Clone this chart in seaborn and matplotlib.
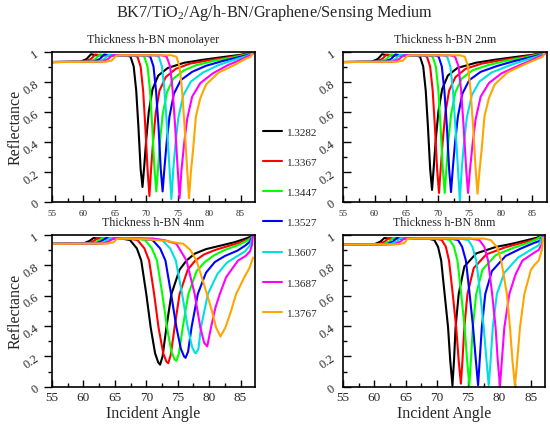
import matplotlib
matplotlib.use("Agg")
import matplotlib.pyplot as plt
import seaborn as sns
import pandas as pd
from matplotlib.ticker import MultipleLocator, FixedLocator, FixedFormatter

# ---------------- data ----------------
ri_labels = ["1.3282", "1.3367", "1.3447", "1.3527", "1.3607", "1.3687", "1.3767"]
line_colors = ["#000000", "#ff0000", "#00ff00", "#0000ff", "#00e0e0", "#ff00ff", "#ffa500"]
panel_titles = ["Thickness h-BN monolayer", "Thickness h-BN 2nm", "Thickness h-BN 4nm", "Thickness h-BN 8nm"]
x_ticks = [55, 60, 65, 70, 75, 80, 85]
y_ticks = [0, 0.2, 0.4, 0.6, 0.8, 1.0]
y_ticklabels = ["0", "0.2", "0.4", "0.6", "0.8", "1"]

mono_x = [
    [55, 59.5, 60.5, 61.2, 62.0, 66.9, 67.5, 68.0, 68.4, 68.75, 69.1, 69.4, 69.7, 70.0, 70.4, 71.0, 71.9, 73.4, 76, 79, 82, 85, 86.5, 87],
    [55, 60.2, 61.2, 61.9, 62.7, 68.0, 68.6, 69.1, 69.5, 69.85, 70.2, 70.5, 70.8, 71.1, 71.5, 72.1, 73.1, 74.7, 77, 80, 83, 85, 86.5, 87],
    [55, 60.9, 61.9, 62.6, 63.4, 69.1, 69.7, 70.2, 70.6, 70.95, 71.3, 71.6, 71.9, 72.2, 72.6, 73.3, 74.3, 76, 78, 81, 84, 86, 87],
    [55, 61.6, 62.6, 63.3, 64.1, 70.0, 70.65, 71.15, 71.55, 71.95, 72.3, 72.6, 72.9, 73.25, 73.7, 74.4, 75.5, 77.3, 79.5, 82, 84.5, 86, 87],
    [55, 62.3, 63.3, 64.0, 64.8, 71.3, 72.0, 72.5, 72.9, 73.3, 73.7, 74.0, 74.3, 74.65, 75.1, 75.9, 77.1, 79.0, 81.5, 84, 86, 87],
    [55, 62.9, 63.9, 64.6, 65.4, 72.5, 73.25, 73.8, 74.2, 74.6, 75.0, 75.3, 75.6, 76.0, 76.5, 77.3, 78.6, 80.6, 83, 85, 86.3, 87],
    [55, 63.5, 64.5, 65.2, 66.0, 74.0, 74.8, 75.3, 75.7, 76.1, 76.5, 76.8, 77.1, 77.5, 77.9, 78.6, 79.5, 81.5, 84.0, 85.7, 86.6, 87],
]
mono_y = [
    [.93, .932, .95, .982, .975, .975, .965, .90, .74, .50, .22, .10, .25, .42, .60, .75, .84, .89, .925, .945, .962, .978, .99, 1.0],
    [.93, .932, .95, .98, .975, .975, .965, .90, .74, .50, .22, .04, .24, .41, .59, .74, .83, .885, .92, .942, .96, .975, .99, 1.0],
    [.93, .932, .95, .98, .975, .975, .965, .90, .74, .50, .22, .07, .24, .41, .58, .73, .82, .875, .91, .94, .962, .98, .995],
    [.93, .932, .95, .98, .975, .975, .965, .90, .74, .50, .22, .07, .23, .40, .57, .72, .81, .865, .905, .935, .96, .975, .99],
    [.93, .932, .95, .978, .975, .975, .965, .90, .74, .50, .22, .02, .22, .39, .56, .71, .80, .86, .91, .945, .97, .99],
    [.93, .932, .95, .975, .975, .975, .965, .90, .74, .50, .22, .025, .21, .38, .55, .70, .79, .855, .91, .945, .97, .985],
    [.93, .932, .94, .972, .975, .975, .965, .90, .74, .50, .22, .025, .20, .37, .57, .69, .78, .86, .91, .95, .965, 1.0],
]

nm2_x = [
    [55, 59.5, 60.5, 61.2, 62.0, 66.6, 67.2, 67.7, 68.1, 68.45, 68.8, 69.1, 69.4, 69.7, 70.1, 70.7, 71.6, 73.1, 76, 79, 82, 85, 86.5, 87],
    [55, 60.2, 61.2, 61.9, 62.7, 67.7, 68.3, 68.8, 69.2, 69.55, 69.9, 70.2, 70.5, 70.8, 71.2, 71.8, 72.8, 74.4, 77, 80, 83, 85, 86.5, 87],
    [55, 60.9, 61.9, 62.6, 63.4, 68.6, 69.2, 69.7, 70.1, 70.45, 70.8, 71.1, 71.4, 71.7, 72.1, 72.8, 73.8, 75.5, 78, 81, 84, 86, 87],
    [55, 61.6, 62.6, 63.3, 64.1, 69.5, 70.15, 70.65, 71.05, 71.45, 71.8, 72.1, 72.4, 72.75, 73.2, 73.9, 75.0, 76.8, 79.5, 82, 84.5, 86, 87],
    [55, 62.3, 63.3, 64.0, 64.8, 70.8, 71.5, 72.0, 72.4, 72.8, 73.2, 73.5, 73.8, 74.15, 74.6, 75.4, 76.6, 78.5, 81.5, 84, 86, 87],
    [55, 62.9, 63.9, 64.6, 65.4, 72.0, 72.75, 73.3, 73.7, 74.1, 74.5, 74.8, 75.1, 75.5, 76.0, 76.8, 78.1, 80.1, 83, 85, 86.3, 87],
    [55, 63.5, 64.5, 65.2, 66.0, 73.5, 74.3, 74.8, 75.2, 75.6, 76.0, 76.3, 76.6, 77.0, 77.4, 78.1, 79.0, 81.0, 83.5, 85.7, 86.6, 87],
]
nm2_y = [
    [.93, .932, .95, .982, .975, .975, .965, .90, .74, .50, .22, .08, .25, .42, .60, .75, .84, .89, .925, .945, .962, .978, .99, 1.0],
    [.93, .932, .95, .98, .975, .975, .965, .90, .74, .50, .22, .06, .24, .41, .59, .74, .83, .885, .92, .942, .96, .975, .99, 1.0],
    [.93, .932, .95, .98, .975, .975, .965, .90, .74, .50, .22, .06, .24, .41, .58, .73, .82, .875, .91, .94, .962, .98, .995],
    [.93, .932, .95, .98, .975, .975, .965, .90, .74, .50, .22, .066, .23, .40, .57, .72, .81, .865, .905, .935, .96, .975, .99],
    [.93, .932, .95, .978, .975, .975, .965, .90, .74, .50, .22, .01, .22, .39, .56, .71, .80, .86, .91, .945, .97, .99],
    [.93, .932, .95, .975, .975, .975, .965, .90, .74, .50, .22, .06, .21, .38, .55, .70, .79, .855, .91, .945, .97, .985],
    [.93, .932, .94, .972, .975, .975, .965, .90, .74, .50, .22, .055, .20, .37, .57, .69, .78, .86, .91, .95, .965, 1.0],
]

nm4_x = [
    [55, 60.0, 61.0, 61.6, 62.5, 66.0, 67.4, 68.5, 69.2, 70.0, 70.7, 71.4, 71.9, 72.2, 72.6, 73.2, 74.0, 75.3, 76.4, 77.7, 79.5, 81.5, 84, 85.5, 86.5, 87],
    [55, 60.7, 61.7, 62.3, 63.2, 67.0, 68.6, 69.7, 70.45, 71.25, 71.95, 72.7, 73.2, 73.5, 73.9, 74.5, 75.3, 76.6, 77.8, 79.2, 81, 83, 85, 86, 86.7, 87],
    [55, 61.4, 62.4, 63.0, 63.9, 68.0, 69.8, 70.9, 71.7, 72.55, 73.3, 74.0, 74.5, 74.8, 75.2, 75.8, 76.7, 78.0, 79.3, 80.8, 82.5, 84.5, 85.8, 86.6, 87],
    [55, 62.0, 63.0, 63.6, 64.5, 69.0, 71.0, 72.2, 73.05, 73.95, 74.8, 75.5, 76.0, 76.25, 76.65, 77.2, 78.2, 79.5, 80.9, 82.5, 84.5, 85.8, 86.5, 87],
    [55, 62.6, 63.6, 64.2, 65.0, 70.0, 72.5, 73.8, 74.7, 75.7, 76.6, 77.3, 77.7, 77.9, 78.3, 78.7, 79.8, 81.3, 82.8, 84.5, 85.7, 86.5, 87],
    [55, 63.2, 64.2, 64.8, 65.6, 71.0, 73.0, 74.8, 76.4, 77.7, 78.6, 79.2, 79.7, 80.3, 81.0, 81.7, 82.7, 84.6, 85.8, 86.5, 86.8, 87],
    [55, 63.8, 64.8, 65.3, 66.5, 70.0, 73.0, 75.0, 75.9, 77.0, 78.0, 79.65, 80.5, 81.1, 81.8, 82.6, 83.5, 84.3, 85.6, 86.4, 87],
]
nm4_y = [
    [.94, .942, .96, .978, .975, .975, .965, .91, .83, .61, .39, .22, .16, .145, .2, .39, .61, .77, .83, .875, .905, .925, .95, .97, .985, 1.0],
    [.94, .942, .96, .978, .975, .975, .965, .91, .83, .61, .39, .22, .165, .155, .21, .39, .61, .77, .83, .87, .9, .925, .95, .965, .98, 1.0],
    [.94, .942, .96, .978, .975, .975, .965, .91, .83, .61, .39, .23, .18, .17, .22, .39, .61, .76, .82, .865, .9, .93, .955, .975, 1.0],
    [.94, .942, .96, .978, .975, .975, .965, .91, .83, .61, .39, .25, .2, .19, .23, .39, .61, .75, .82, .86, .895, .93, .955, 1.0],
    [.94, .942, .96, .978, .975, .975, .965, .91, .83, .61, .39, .26, .225, .22, .25, .39, .61, .74, .815, .86, .89, .93, 1.0],
    [.94, .942, .96, .975, .975, .975, .963, .94, .83, .61, .39, .29, .265, .39, .52, .61, .72, .83, .86, .89, .93, 1.0],
    [.94, .942, .95, .972, .975, .97, .96, .945, .94, .9, .83, .61, .49, .39, .33, .39, .5, .61, .72, .78, .85],
]

nm8_x = [
    [55, 60.0, 61.0, 61.6, 62.5, 68.5, 69.6, 70.2, 70.7, 71.25, 71.8, 72.15, 72.5, 72.75, 73.0, 73.5, 74.4, 76.3, 79.5, 82, 84, 86, 87],
    [55, 60.7, 61.7, 62.3, 63.2, 69.7, 70.8, 71.45, 71.95, 72.55, 73.1, 73.5, 73.85, 74.1, 74.4, 74.9, 75.9, 77.9, 80.8, 83, 85, 86.5, 87],
    [55, 61.4, 62.4, 63.0, 63.9, 70.9, 72.1, 72.75, 73.3, 73.9, 74.45, 74.85, 75.2, 75.45, 75.75, 76.3, 77.3, 79.4, 82, 84.5, 86, 87],
    [55, 62.0, 63.0, 63.6, 64.5, 72.1, 73.4, 74.05, 74.65, 75.25, 75.8, 76.25, 76.6, 76.85, 77.2, 77.75, 78.8, 81.0, 83.5, 85.5, 86.5, 87],
    [55, 62.6, 63.6, 64.2, 65.0, 73.6, 75.0, 75.7, 76.3, 76.95, 77.5, 77.95, 78.3, 78.6, 78.95, 79.6, 80.8, 83.0, 85.0, 86.3, 87],
    [55, 63.2, 64.2, 64.8, 65.6, 75.2, 76.8, 77.6, 78.2, 78.85, 79.4, 79.75, 80.1, 80.4, 80.8, 81.6, 82.6, 83.7, 85.5, 86.3, 86.8, 87],
    [55, 63.8, 64.8, 65.3, 66.5, 77.5, 78.6, 79.6, 80.3, 81.2, 81.7, 82.1, 82.5, 82.85, 83.3, 84.0, 85.05, 85.6, 86.3, 86.8, 87],
]
nm8_y = [
    [.935, .937, .955, .978, .975, .975, .965, .92, .83, .61, .39, .17, .01, .17, .39, .61, .79, .877, .92, .94, .96, .98, 1.0],
    [.935, .937, .955, .978, .975, .975, .965, .92, .83, .61, .39, .17, .02, .17, .39, .61, .78, .87, .915, .94, .96, .98, 1.0],
    [.935, .937, .955, .978, .975, .975, .965, .92, .83, .61, .39, .17, .01, .17, .39, .61, .77, .865, .91, .945, .97, 1.0],
    [.935, .937, .955, .978, .975, .975, .965, .92, .83, .61, .39, .17, .01, .17, .39, .61, .76, .86, .91, .945, .96, 1.0],
    [.935, .937, .955, .978, .975, .975, .965, .92, .83, .61, .39, .17, .01, .17, .39, .61, .75, .85, .9, .93, 1.0],
    [.935, .937, .955, .975, .975, .975, .965, .92, .83, .61, .39, .17, .005, .17, .39, .61, .74, .83, .88, .9, .94, .99],
    [.935, .937, .945, .972, .975, .975, .965, .92, .83, .61, .39, .17, .005, .17, .39, .61, .77, .8, .83, .9, .98],
]

# ---------------- style ----------------
sns.set_style("ticks")
plt.rcParams["font.family"] = ["Liberation Serif", "DejaVu Serif"]
plt.rcParams["mathtext.fontset"] = "custom"
plt.rcParams["mathtext.rm"] = "Liberation Serif"
plt.rcParams["mathtext.it"] = "Liberation Serif:italic"

fig = plt.figure(figsize=(5.5, 4.35), dpi=100)
W, H = 550.0, 435.0
boxes = [(52, 52.5, 255, 203), (343, 52.5, 547, 203), (52, 235.7, 255, 387.7), (343, 235.7, 545, 387.7)]
panel_data = [(mono_x, mono_y), (nm2_x, nm2_y), (nm4_x, nm4_y), (nm8_x, nm8_y)]

axes = []
for i, ((l, t, r, b), (px, py)) in enumerate(zip(boxes, panel_data)):
    ax = fig.add_axes([l / W, 1 - b / H, (r - l) / W, (b - t) / H])
    rows = []
    for k, (xs, ys) in enumerate(zip(px, py)):
        assert len(xs) == len(ys), (i, k)
        for a, v in zip(xs, ys):
            rows.append({"angle": a, "refl": v, "n": ri_labels[k]})
    df = pd.DataFrame(rows)
    sns.lineplot(data=df, x="angle", y="refl", hue="n", hue_order=ri_labels,
                 palette=line_colors, estimator=None, sort=False, linewidth=1.5,
                 ax=ax, legend=False)
    ax.set_xlim(55, 87.3)
    ax.set_ylim(0, 1)
    ax.xaxis.set_major_locator(FixedLocator(x_ticks))
    ax.xaxis.set_minor_locator(MultipleLocator(2.5))
    ax.yaxis.set_major_locator(FixedLocator(y_ticks))
    ax.yaxis.set_major_formatter(FixedFormatter(y_ticklabels))
    ax.yaxis.set_minor_locator(MultipleLocator(0.1))
    top_row = i < 2
    left_col = i % 2 == 0
    ax.tick_params(axis="x", which="both", direction="in", width=1.0, color="black",
                   labelsize=6.5 if top_row else 9.5, pad=5 if top_row else 3)
    ax.tick_params(axis="x", which="major", length=5)
    ax.tick_params(axis="x", which="minor", length=3)
    ax.tick_params(axis="y", which="both", direction="out" if left_col else "in",
                   width=1.0, color="black", labelsize=9, pad=2 if left_col else 4)
    ax.tick_params(axis="y", which="major", length=6)
    ax.tick_params(axis="y", which="minor", length=3)
    for lab in ax.get_yticklabels():
        lab.set_rotation(35)
    for sp in ax.spines.values():
        sp.set_visible(True)
        sp.set_linewidth(1.2)
        sp.set_color("black")
    ax.set_title(panel_titles[i], fontsize=8.6, pad=7)
    ax.set_xlabel("Incident Angle" if not top_row else "", fontsize=11.5)
    ax.set_ylabel("Reflectance" if left_col else "", fontsize=11.5)
    ax.yaxis.set_label_coords(-0.14, 0.5)
    ax.xaxis.set_label_coords(0.5, -0.118)
    axes.append(ax)

handles = axes[0].get_lines()[:7]
fig.legend(handles, ri_labels, loc="center left", bbox_to_anchor=(263 / W, 1 - 223.4 / H),
           frameon=False, fontsize=8, handlelength=1.7, handletextpad=0.45,
           labelspacing=1.83, borderpad=0, borderaxespad=0)

fig.text(0.5, 1 - 13 / H, "BK7/TiO$_2$/Ag/h-BN/Graphene/Sensing Medium",
         ha="center", va="center", fontsize=11.7)

fig.savefig("out.png", dpi=100)
